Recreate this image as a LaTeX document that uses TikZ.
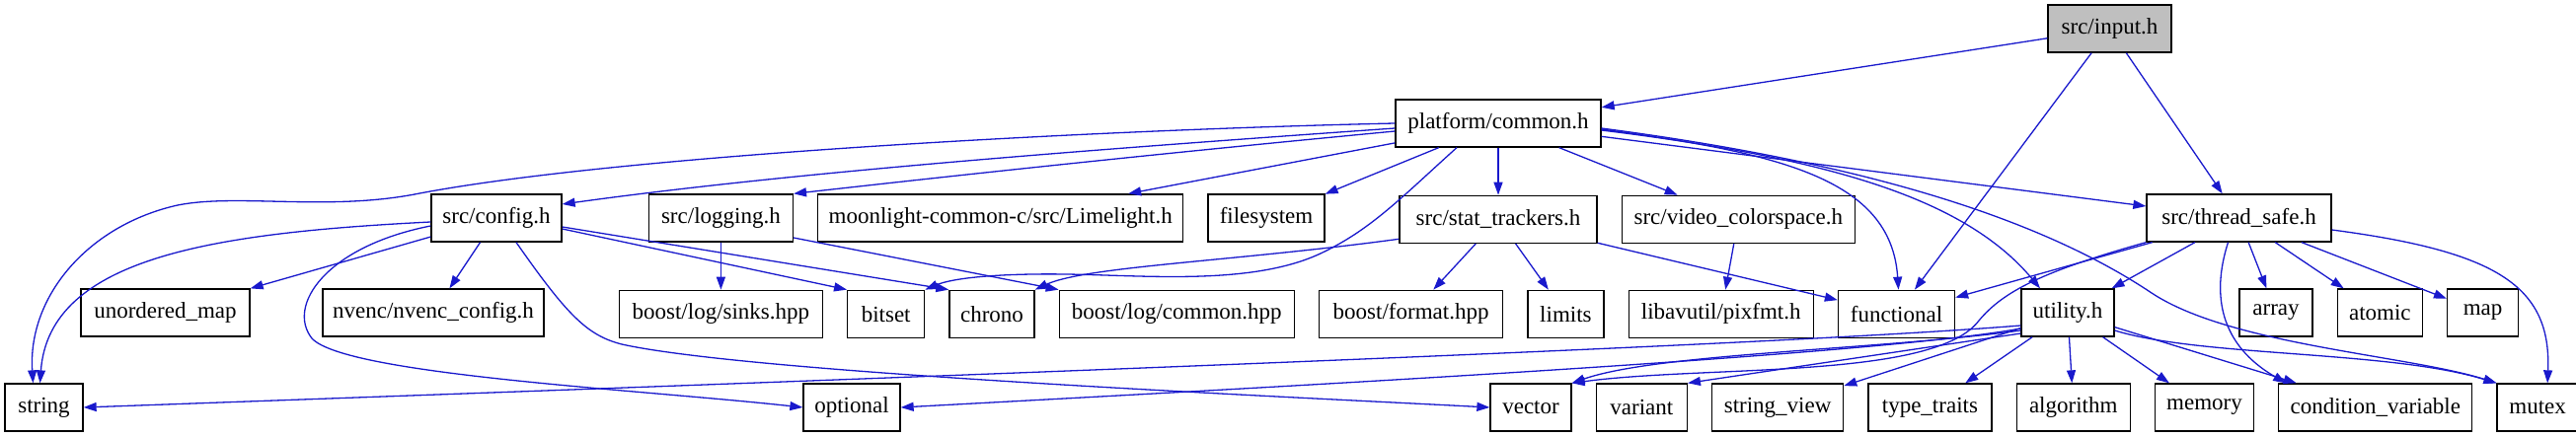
\documentclass[tikz,border=0pt]{standalone}
\usepackage{fontspec}
\setmainfont{Liberation Serif}
\usepackage{xcolor}
\usetikzlibrary{arrows.meta,positioning,calc}
\definecolor{edgeblue}{RGB}{25,25,204}
\definecolor{inputgray}{RGB}{191,191,191}

\begin{document}
\begin{tikzpicture}[
  x=0.5pt, y=-0.5pt,
  node distance=24pt and 12pt,
  filenode/.style={draw=black, line width=0.65pt, minimum height=24pt, inner sep=0pt,
                   font=\fontsize{11.5}{13}\selectfont},
  mainnode/.style={filenode, fill=inputgray},
  dep/.style={draw=edgeblue, line width=0.65pt, -{Triangle[length=6.5pt,width=4.5pt]}},
]
  \useasboundingbox (0,0) rectangle (2610,443);

  % Top
  \node[mainnode, minimum width=62.5pt] (input) at (2137.5,29) {src/input.h};
  \node[filenode, minimum width=104pt] (common) at (1518,125) {platform/common.h};

  % Second row
  \node[filenode, minimum width=66pt] (config) at (503,221) {src/config.h};
  \node[filenode, minimum width=59pt] (filesystem) at (1283,221) {filesystem};
  \node[filenode, minimum width=185pt, left=of filesystem] (limelight) {moonlight-common-c/src/Limelight.h};
  \node[filenode, minimum width=73pt, left=of limelight] (logging) {src/logging.h};
  \node[filenode, minimum width=100pt, below=of common] (stattrk) {src/stat\_trackers.h};
  \node[filenode, minimum width=118pt, right=of stattrk] (colorspace) {src/video\_colorspace.h};
  \node[filenode, minimum width=93.5pt] (threadsafe) at (2268.5,221) {src/thread\_safe.h};

  % Third row
  \node[filenode, minimum width=85.5pt] (umap) at (167.5,317) {unordered\_map};
  \node[filenode, minimum width=112pt] (nvenc) at (439,317) {nvenc/nvenc\_config.h};
  \node[filenode, minimum width=103pt, below=of logging] (sinks) {boost/log/sinks.hpp};
  \node[filenode, minimum width=39pt, right=of sinks] (bitset) {bitset};
  \node[filenode, minimum width=43pt, right=of bitset] (chrono) {chrono};
  \node[filenode, minimum width=119pt, right=of chrono] (logcommon) {boost/log/common.hpp};
  \node[filenode, minimum width=93pt, right=of logcommon] (format) {boost/format.hpp};
  \node[filenode, minimum width=38.5pt, right=of format] (limits) {limits};
  \node[filenode, minimum width=93.5pt, right=of limits] (pixfmt) {libavutil/pixfmt.h};
  \node[filenode, minimum width=59pt, right=of pixfmt] (functional) {functional};
  \node[filenode, minimum width=47pt] (utility) at (2095,317) {utility.h};
  \node[filenode, minimum width=37pt] (array) at (2306,317) {array};
  \node[filenode, minimum width=43pt, right=of array] (atomic) {atomic};
  \node[filenode, minimum width=36pt, right=of atomic] (map) {map};

  % Bottom row
  \node[filenode, minimum width=39.5pt] (string) at (44.5,413) {string};
  \node[filenode, minimum width=49pt] (optional) at (863,413) {optional};
  \node[filenode, minimum width=41pt] (vector) at (1551,413) {vector};
  \node[filenode, minimum width=46pt, right=of vector] (variant) {variant};
  \node[filenode, minimum width=66.5pt, right=of variant] (strview) {string\_view};
  \node[filenode, minimum width=62.5pt, right=of strview] (typetraits) {type\_traits};
  \node[filenode, minimum width=57.5pt, right=of typetraits] (algorithm) {algorithm};
  \node[filenode, minimum width=50pt, right=of algorithm] (memory) {memory};
  \node[filenode, minimum width=98pt, right=of memory] (condvar) {condition\_variable};
  \node[filenode, minimum width=41pt, right=of condvar] (mutex) {mutex};

  % src/input.h
  \draw[dep] (input) -- (common);
  \draw[dep] (input) -- (functional);
  \draw[dep] (input) -- (threadsafe);

  % platform/common.h
  \draw[dep] (common.west) .. controls (1100,132) and (620,158) .. (420,197)
    .. controls (330,214) and (240,196) .. (180,208)
    .. controls (90,228) and (28,300) .. ($(string.north)+(-11,0)$);
  \draw[dep] ($(common.west)+(0,5)$) .. controls (1100,152) and (800,175) .. ($(config.east)+(0,-14)$);
  \draw[dep] ($(common.west)+(0,8)$) .. controls (1150,158) and (950,180) .. (logging.north east);
  \draw[dep] (common) -- (limelight);
  \draw[dep] (common) -- (filesystem);
  \draw[dep] ($(common.south)+(-42,0)$) .. controls (1420,200) and (1390,232) .. (1340,256)
    .. controls (1270,290) and (1160,279) .. (1080,278)
    .. controls (1010,277) and (965,282) .. (bitset.north east);
  \draw[dep] (common) -- (stattrk);
  \draw[dep] (common) -- (colorspace);
  \draw[dep] (common) -- (threadsafe);
  \draw[dep] ($(common.east)+(0,6)$) .. controls (1800,155) and (1916,180) .. ($(functional.north)+(2,0)$);
  \draw[dep] ($(common.east)+(0,7)$) .. controls (1850,160) and (1990,200) .. ($(utility.north)+(-28,0)$);
  \draw[dep] ($(common.east)+(0,5)$) .. controls (1850,160) and (2050,210) .. (2180,297)
    .. controls (2260,350) and (2440,360) .. (mutex.north west);

  % src/config.h
  \draw[dep] ($(config.west)+(0,4)$) .. controls (220,236) and (50,260) .. ($(string.north)+(-4,0)$);
  \draw[dep] ($(config.west)+(0,8)$) .. controls (330,250) and (290,310) .. (316,343)
    .. controls (350,380) and (650,395) .. (optional.west);
  \draw[dep] (config) -- (umap);
  \draw[dep] (config) -- (nvenc);
  \draw[dep] ($(config.south)+(20,0)$) .. controls (575,320) and (595,340) .. (630,349)
    .. controls (760,378) and (1300,402) .. (vector.west);
  \draw[dep] ($(config.east)+(0,11)$) -- (bitset.north west);
  \draw[dep] ($(config.east)+(0,9)$) -- (chrono.north west);

  % src/logging.h
  \draw[dep] (logging) -- (sinks);
  \draw[dep] ($(logging.east)+(0,20)$) -- (logcommon.north west);

  % src/stat_trackers.h
  \draw[dep] ($(stattrk.west)+(0,20)$) .. controls (1250,265) and (1100,270) .. (chrono.north east);
  \draw[dep] (stattrk) -- (format);
  \draw[dep] (stattrk) -- (limits);
  \draw[dep] (stattrk) -- (functional);

  % src/video_colorspace.h
  \draw[dep] (colorspace) -- (pixfmt);

  % src/thread_safe.h
  \draw[dep] (threadsafe) -- (functional);
  \draw[dep] (threadsafe.south west) .. controls (2070,275) and (2030,295) .. (2005,325)
    .. controls (1960,385) and (1730,370) .. (vector.north east);
  \draw[dep] (threadsafe) -- (utility);
  \draw[dep] ($(threadsafe.south)+(-11,0)$) .. controls (2240,300) and (2250,350) .. ($(condvar.north west)+(8,0)$);
  \draw[dep] (threadsafe) -- (array);
  \draw[dep] (threadsafe) -- (atomic);
  \draw[dep] (threadsafe) -- (map);
  \draw[dep] ($(threadsafe.east)+(0,12)$) .. controls (2530,255) and (2585,290) .. ($(mutex.north)+(10,0)$);

  % utility.h
  \draw[dep] ($(utility.west)+(0,13)$) .. controls (1800,350) and (1000,380) .. (string.east);
  \draw[dep] ($(utility.west)+(0,16)$) .. controls (1900,360) and (1300,392) .. (optional.east);
  \draw[dep] ($(utility.west)+(0,18)$) .. controls (1900,355) and (1680,358) .. (vector.north east);
  \draw[dep] ($(utility.west)+(0,21)$) -- (variant.north east);
  \draw[dep] (utility) -- (strview);
  \draw[dep] (utility) -- (typetraits);
  \draw[dep] (utility) -- (algorithm);
  \draw[dep] (utility) -- (memory);
  \draw[dep] (utility) -- (condvar);
  \draw[dep] ($(utility.east)+(0,18)$) .. controls (2230,362) and (2420,355) .. (mutex.north west);
\end{tikzpicture}
\end{document}
